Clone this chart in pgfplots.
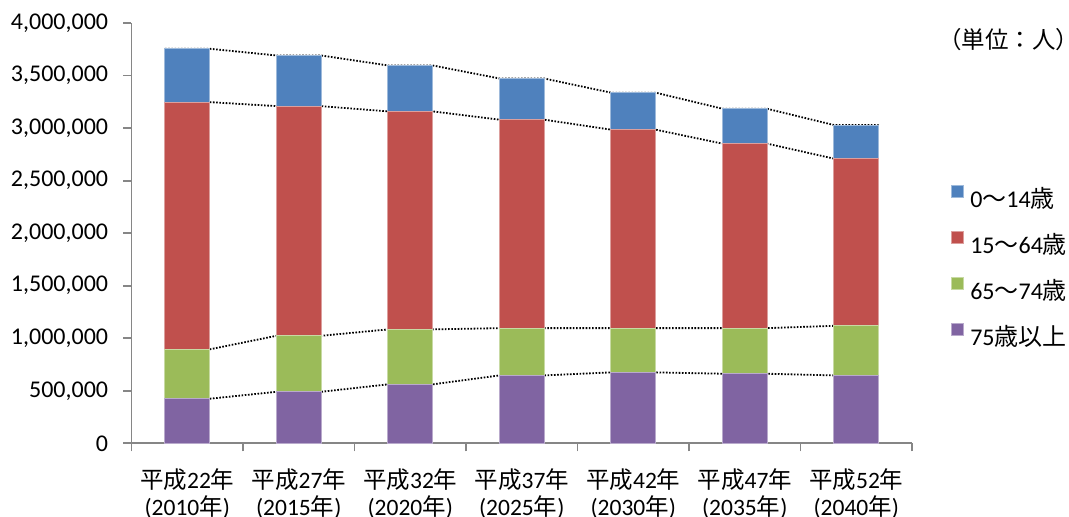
\documentclass[border=0pt]{standalone}
\usepackage{fontspec}
\usepackage{pgfplots}
\pgfplotsset{compat=1.18}
\usepackage{pgfplotstable}
\setmainfont{Carlito}
\newfontfamily\jpfont{Noto Sans CJK JP}
\newcommand\jp[1]{{\jpfont #1}}

\definecolor{cA}{HTML}{4F81BD}
\definecolor{cB}{HTML}{C0504D}
\definecolor{cC}{HTML}{9BBB59}
\definecolor{cD}{HTML}{8064A2}
\definecolor{axisgray}{HTML}{868686}

% population by age group (persons): 75+, 65-74, 15-64, 0-14
\pgfplotstableread{
cat p g r b
0 424000 470000 2353000 508000
1 490000 533000 2186000 482000
2 561000 523000 2075000 437000
3 646000 450000 1984000 392000
4 675000 421000 1889000 352000
5 662000 434000 1756000 332000
6 646000 472000 1591000 320000
}\segments

% cumulative boundaries at the left and right edge of each bar
\pgfplotstableread{
x c1 c2 c3 c4
-0.2 424000 894000 3247000 3755000
0.2 424000 894000 3247000 3755000
0.8 490000 1023000 3209000 3691000
1.2 490000 1023000 3209000 3691000
1.8 561000 1084000 3159000 3596000
2.2 561000 1084000 3159000 3596000
2.8 646000 1096000 3080000 3472000
3.2 646000 1096000 3080000 3472000
3.8 675000 1096000 2985000 3337000
4.2 675000 1096000 2985000 3337000
4.8 662000 1096000 2852000 3184000
5.2 662000 1096000 2852000 3184000
5.8 646000 1118000 2709000 3029000
6.2 646000 1118000 2709000 3029000
}\edges

\pgfplotsset{
  base/.style={scale only axis, width=390.25bp, height=210.15bp,
    xmin=-0.5, xmax=6.5, ymin=0, ymax=4000000},
  conn/.style={black, line width=0.9bp, dash pattern=on 0.8bp off 0.8bp},
}

\begin{document}
\begin{tikzpicture}
\useasboundingbox (-65.75bp,-36.85bp) rectangle (468.75bp,221.65bp);
% dotted connectors between the segment boundaries
\begin{axis}[base, hide axis]
  \addplot[conn] table[x=x, y=c1] {\edges};
  \addplot[conn] table[x=x, y=c2] {\edges};
  \addplot[conn] table[x=x, y=c3] {\edges};
  \addplot[conn] table[x=x, y=c4] {\edges};
\end{axis}
% stacked bars
\begin{axis}[base,
  ybar stacked, bar width=0.4,
  axis x line=bottom, axis y line=left,
  axis line style={axisgray, line width=0.9bp, -},
  tick align=outside,
  ytick={0,500000,...,4000000},
  scaled y ticks=false,
  /pgf/number format/fixed,
  /pgf/number format/1000 sep={,},
  /pgf/number format/assume math mode=true,
  ytick style={axisgray, line width=0.9bp},
  major tick length=4bp,
  y tick label style={anchor=east, inner sep=0pt, xshift=-7.5bp,
    font=\fontsize{12bp}{14bp}\selectfont},
  xtick={0,...,6},
  major x tick style={draw=none},
  minor xtick={-0.5,0.5,...,6.5},
  minor x tick style={axisgray, line width=0.9bp},
  minor tick length=4bp,
  xticklabels={
    {\jp{平成}22\jp{年}\\(2010\jp{年})},
    {\jp{平成}27\jp{年}\\(2015\jp{年})},
    {\jp{平成}32\jp{年}\\(2020\jp{年})},
    {\jp{平成}37\jp{年}\\(2025\jp{年})},
    {\jp{平成}42\jp{年}\\(2030\jp{年})},
    {\jp{平成}47\jp{年}\\(2035\jp{年})},
    {\jp{平成}52\jp{年}\\(2040\jp{年})}},
  x tick label style={align=center, anchor=north, inner sep=0pt, yshift=-8.5bp,
    font=\fontsize{11.75bp}{13.5bp}\selectfont},
  reverse legend,
  legend cell align=left,
  legend image code/.code={\fill[#1] (0bp,1bp) rectangle (6bp,7bp);},
  legend style={draw=none, fill=none, inner sep=0pt, outer sep=0pt,
    at={(axis description cs:1.05,0.4192)}, anchor=west,
    row sep=9.8bp,
    nodes={inner sep=0pt, text height=10bp, text depth=2bp},
    /tikz/every odd column/.append style={column sep=3.15bp},
    font=\fontsize{12bp}{14bp}\selectfont},
  clip=false,
]
  \addplot[fill=cD, draw=cD!55!white, line width=0.5bp] table[x=cat, y=p] {\segments};
  \addlegendentry{75\jp{歳以上}}
  \addplot[fill=cC, draw=cC!55!white, line width=0.5bp] table[x=cat, y=g] {\segments};
  \addlegendentry{65\jp{～}74\jp{歳}}
  \addplot[fill=cB, draw=cB!55!white, line width=0.5bp] table[x=cat, y=r] {\segments};
  \addlegendentry{15\jp{～}64\jp{歳}}
  \addplot[fill=cA, draw=cA!55!white, line width=0.5bp] table[x=cat, y=b] {\segments};
  \addlegendentry{0\jp{～}14\jp{歳}}
  \node[font=\jpfont\fontsize{11.75bp}{14bp}\selectfont, inner sep=0pt]
    at (axis description cs:1.1237,0.9607) {（単位：人）};
\end{axis}
\end{tikzpicture}
\end{document}
